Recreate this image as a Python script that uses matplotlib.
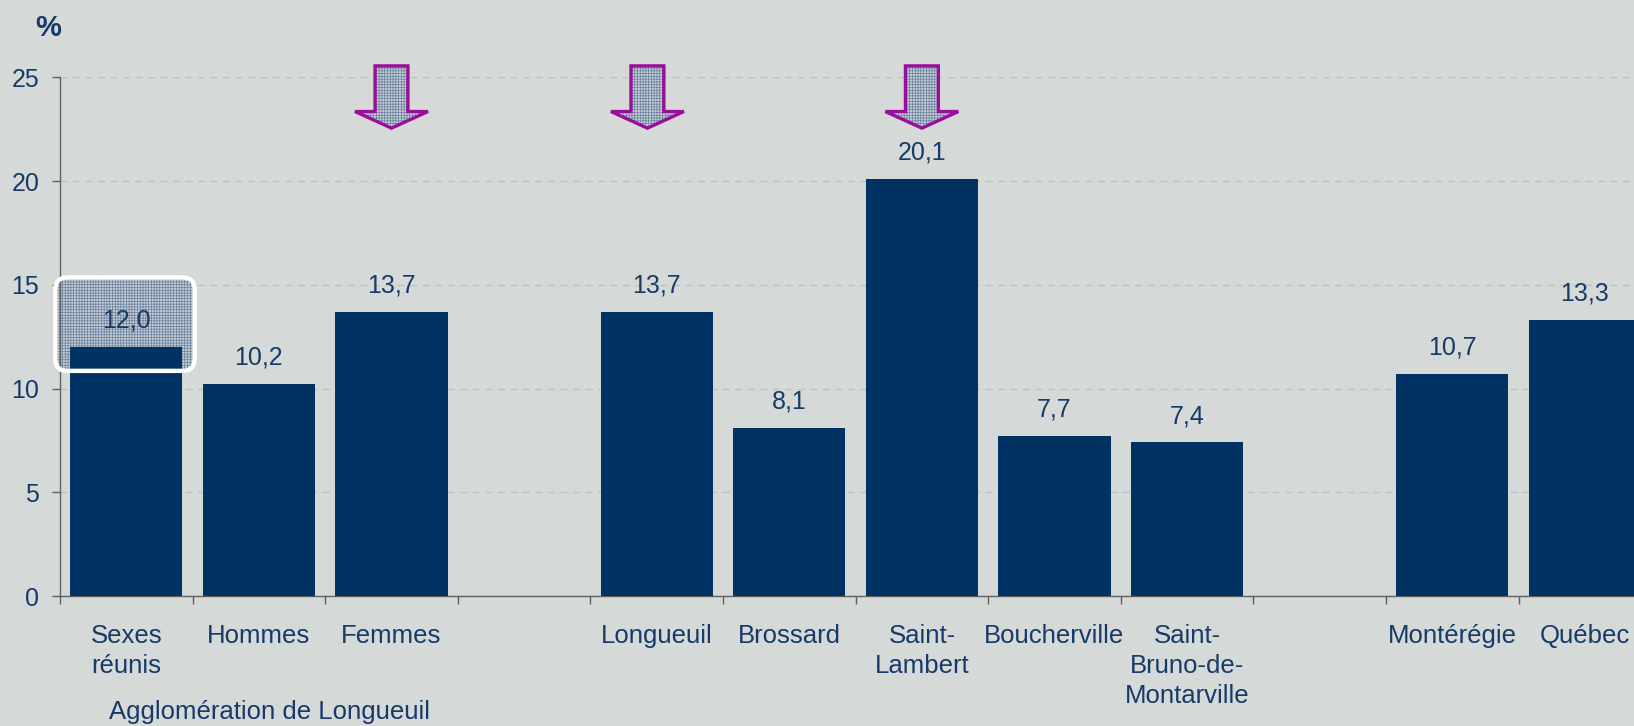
import numpy as np
import matplotlib
matplotlib.use("Agg")
import matplotlib.pyplot as plt
from matplotlib.patches import Polygon, FancyBboxPatch

# données
categories = ["Sexes\nréunis", "Hommes", "Femmes", "",
              "Longueuil", "Brossard", "Saint-\nLambert", "Boucherville",
              "Saint-\nBruno-de-\nMontarville", "",
              "Montérégie", "Québec"]
values = [12.0, 10.2, 13.7, np.nan,
          13.7, 8.1, 20.1, 7.7, 7.4, np.nan,
          10.7, 13.3]
arrow_cats = ["Femmes", "Longueuil", "Saint-\nLambert"]
highlight_cat = "Sexes\nréunis"
group_label = "Agglomération de Longueuil"
yticks = [0, 5, 10, 15, 20, 25]

BG = "#D5D9D8"
BAR = "#003263"
TXT = "#173A68"
MAGENTA = "#9A0E9A"
MESH_BG = "#C4CCD4"
MESH = "#6A809E"

plt.rcParams["font.family"] = "Liberation Sans"
plt.rcParams["hatch.linewidth"] = 0.5

fig = plt.figure(figsize=(16.34, 7.26), dpi=100, facecolor=BG)
ax = fig.add_axes([60 / 1634, 130 / 726, 12 * 132.6 / 1634, 518.7 / 726])
ax.set_facecolor(BG)

x = np.arange(len(categories))
vals = np.array(values, dtype=float)
ax.bar(x, np.nan_to_num(vals), width=0.845, color=BAR, zorder=3)

ax.set_xlim(-0.5, len(categories) - 0.5)
ax.set_ylim(0, 25)

# grille
ax.set_yticks(yticks)
ax.yaxis.grid(True, color="#BDC1C1", linestyle=(0, (5, 4)), linewidth=1.0, zorder=0)
ax.set_axisbelow(True)

for s in ["top", "right"]:
    ax.spines[s].set_visible(False)
for s in ["left", "bottom"]:
    ax.spines[s].set_color("#606060")
    ax.spines[s].set_linewidth(1.0)

ax.tick_params(axis="y", length=6, width=1, color="#606060", pad=9,
               labelsize=18, labelcolor=TXT)
ax.set_xticks(x)
ax.set_xticklabels(categories, linespacing=1.32)
ax.set_xticks(np.arange(len(categories) + 1) - 0.5, minor=True)
ax.tick_params(axis="x", which="major", length=0, pad=20, labelsize=18.5, labelcolor=TXT)
ax.tick_params(axis="x", which="minor", length=6, width=1, color="#606060")

# valeurs
for xi, v in zip(x, vals):
    if np.isnan(v):
        continue
    ax.annotate(f"{v:.1f}".replace(".", ","), (xi, v), xytext=(0, 14),
                textcoords="offset points", ha="center", va="baseline",
                fontsize=18, color=TXT, zorder=6)

# cadre arrondi autour de la première valeur
hi = categories.index(highlight_cat)
px_x = 1 / 132.6
px_y = 25 / 518.7
box_kw = dict(boxstyle=f"round,pad=0,rounding_size={12 * px_x}",
              mutation_aspect=px_y / px_x, clip_on=False)
ax.add_patch(FancyBboxPatch((hi - 0.535, 10.85), 1.05, 4.5, facecolor=MESH_BG,
                            edgecolor=MESH, hatch="++++++", linewidth=0,
                            zorder=2, **box_kw))
ax.add_patch(FancyBboxPatch((hi - 0.535, 10.85), 1.05, 4.5, facecolor="none",
                            edgecolor="white", linewidth=3.2, zorder=7, **box_kw))

# flèches
for name in arrow_cats:
    cx = categories.index(name)
    if name == "Longueuil":
        cx -= 0.07
    sw, hw = 0.124, 0.275
    pts = [(cx - sw, 25.55), (cx + sw, 25.55), (cx + sw, 23.35), (cx + hw, 23.35),
           (cx, 22.55), (cx - hw, 23.35), (cx - sw, 23.35)]
    ax.add_patch(Polygon(pts, closed=True, facecolor=MESH_BG, edgecolor=MESH,
                         hatch="++++++", linewidth=0, clip_on=False, zorder=5))
    ax.add_patch(Polygon(pts, closed=True, facecolor="none", edgecolor=MAGENTA,
                         linewidth=2.4, joinstyle="miter", clip_on=False, zorder=6))

fig.text(48 / 1634, 1 - 28 / 726, "%", ha="center", va="center",
         fontsize=21, fontweight="bold", color=TXT)

ax.annotate(group_label, (1.08, 0), xycoords=("data", "axes fraction"),
            xytext=(0, -123), textcoords="offset pixels", ha="center",
            va="baseline", fontsize=18.5, color=TXT, annotation_clip=False)

fig.savefig("out.png", dpi=100, facecolor=BG)
